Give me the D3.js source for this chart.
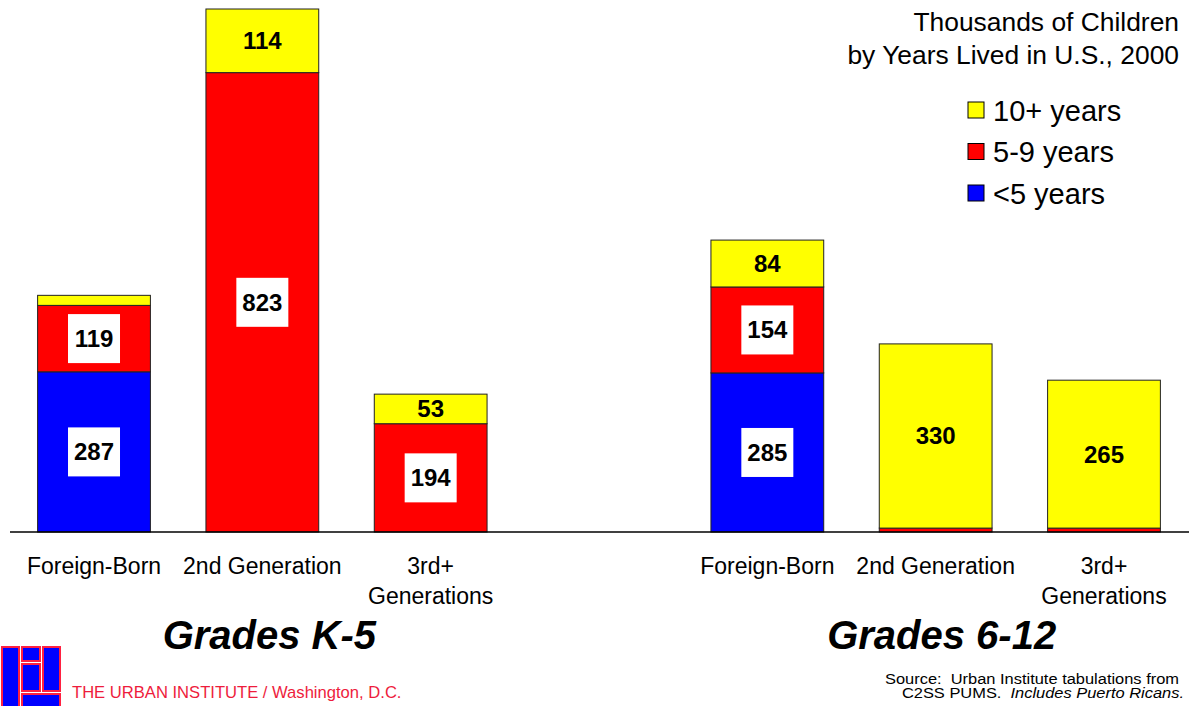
<!DOCTYPE html>
<html><head><meta charset="utf-8">
<script src="https://cdn.jsdelivr.net/npm/d3@7"></script>
<style>body{margin:0;background:#fff}svg{display:block;font-family:"Liberation Sans",Arial,sans-serif}.pre{white-space:pre}</style>
</head><body><svg id="c" width="1189" height="706"></svg>
<script>
// Data
const slots = ["K5-FB","K5-2G","K5-3G","gap","G612-FB","G612-2G","G612-3G"];
const categories = ["K5-FB","K5-2G","K5-3G","G612-FB","G612-2G","G612-3G"];
const categoryLabels = [["Foreign-Born"],["2nd Generation"],["3rd+","Generations"],["Foreign-Born"],["2nd Generation"],["3rd+","Generations"]];
const seriesKeys = ["<5 years","5-9 years","10+ years"];
const under5 = [287, 0, 0, 285, 0, 0];
const years5to9 = [119, 823, 194, 154, 7, 7];
const years10plus = [18, 114, 53, 84, 330, 265];
const groupTitles = ["Grades K-5","Grades 6-12"];
const colors = {"<5 years":"#0000ff","5-9 years":"#ff0000","10+ years":"#ffff00"};

const svg = d3.select("#c");
const baseY = 532;
const x = d3.scaleBand().domain(slots).range([9, 1189]).paddingInner(0.33).paddingOuter(0.17);
const y = d3.scaleLinear().domain([0, 937]).range([baseY, 9]);

const rows = categories.map((c,i)=>({cat:c,"<5 years":under5[i],"5-9 years":years5to9[i],"10+ years":years10plus[i]}));
const stacked = d3.stack().keys(seriesKeys)(rows);

const g = svg.append("g");
stacked.forEach(s=>{
  g.selectAll(null).data(s.filter(d=>d[1]-d[0]>0)).enter().append("rect")
    .attr("x",d=>x(d.data.cat)).attr("width",x.bandwidth())
    .attr("y",d=>y(d[1])).attr("height",d=>y(d[0])-y(d[1]))
    .attr("fill",colors[s.key]).attr("stroke","#222").attr("stroke-width",1);
});
// labels
stacked.forEach(s=>{
  s.forEach(d=>{
    const v = d[1]-d[0];
    if (v < 40) return;
    const cx = x(d.data.cat)+x.bandwidth()/2;
    const cy = (y(d[0])+y(d[1]))/2;
    if (s.key !== "10+ years") {
      g.append("rect").attr("x",cx-26).attr("y",cy-24.5).attr("width",52).attr("height",49).attr("fill","#fff");
    }
    g.append("text").attr("x",cx).attr("y",cy+8.5).attr("text-anchor","middle")
      .attr("font-size",24).attr("font-weight","bold").attr("fill","#000").text(v);
  });
});
// baseline
svg.append("line").attr("x1",10).attr("x2",1189).attr("y1",baseY).attr("y2",baseY).attr("stroke","#000").attr("stroke-width",1.5);

// category labels
categories.forEach((c,i)=>{
  const cx = x(c)+x.bandwidth()/2;
  categoryLabels[i].forEach((t,j)=>{
    svg.append("text").attr("x",cx).attr("y",574+j*30).attr("text-anchor","middle").attr("font-size",23).attr("fill","#000").text(t);
  });
});
// group titles
const groupCenters = [ (x("K5-FB")+x("K5-3G")+x.bandwidth())/2 + 7, (x("G612-FB")+x("G612-3G")+x.bandwidth())/2 + 6 ];
groupTitles.forEach((t,i)=>{
  svg.append("text").attr("x",groupCenters[i]).attr("y",649).attr("text-anchor","middle")
    .attr("font-size",40).attr("font-weight","bold").attr("font-style","italic").text(t);
});

// title
svg.append("text").attr("x",1179).attr("y",31).attr("text-anchor","end").attr("font-size",26.4).text("Thousands of Children");
svg.append("text").attr("x",1179).attr("y",64).attr("text-anchor","end").attr("font-size",26.4).text("by Years Lived in U.S., 2000");

// legend
const legendKeys = ["10+ years","5-9 years","<5 years"];
legendKeys.forEach((k,i)=>{
  const cy = 110 + i*41.5;
  svg.append("rect").attr("x",968).attr("y",cy-8).attr("width",16).attr("height",16).attr("fill",colors[k]).attr("stroke","#000").attr("stroke-width",1);
  svg.append("text").attr("x",993).attr("y",cy+10.5).attr("font-size",29).text(k);
});

// logo
const logo = svg.append("g").attr("fill","#0000ff").attr("stroke","#ff2040").attr("stroke-width",2);
[[2,647,17,62],[22,647,18,14],[22,664,18,27],[43,647,17,44],[22,694,38,15]].forEach(r=>{
  logo.append("rect").attr("x",r[0]).attr("y",r[1]).attr("width",r[2]).attr("height",r[3]);
});
svg.append("text").attr("x",72).attr("y",698).attr("font-size",16.6).attr("fill","#ee1c3c").text("THE URBAN INSTITUTE / Washington, D.C.");

// source (horizontally widened like the reference)
svg.append("text").attr("class","pre").attr("transform","translate(1179,684) scale(1.15,1)").attr("text-anchor","end").attr("font-size",14.3).text("Source:  Urban Institute tabulations from");
const src2 = svg.append("text").attr("class","pre").attr("transform","translate(1184,697.5) scale(1.15,1)").attr("text-anchor","end").attr("font-size",14.3);
src2.append("tspan").text("C2SS PUMS.  ");
src2.append("tspan").attr("font-style","italic").text("Includes Puerto Ricans.");
</script></body></html>
